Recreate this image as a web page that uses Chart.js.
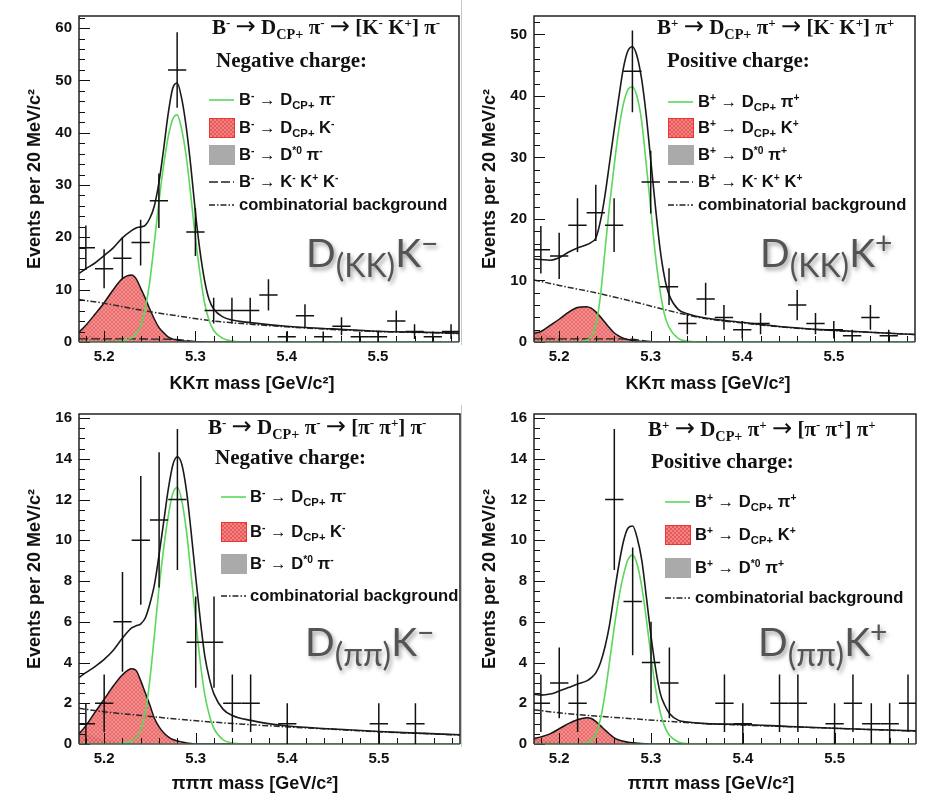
<!DOCTYPE html>
<html lang="en">
<head>
<meta charset="UTF-8">
<title>B &rarr; D(CP+) h mass fits</title>
<script src="https://cdn.jsdelivr.net/npm/chart.js"></script>
<style>
    body { margin: 0; background: #fff; }
    #wrap { position: relative; width: 928px; height: 797px; overflow: hidden; font-family: "Liberation Sans", Arial, sans-serif; color: #111; }
    #wrap canvas { position: absolute; }
    .sep { position: absolute; width: 1px; background: #c8c8c8; }
    .ttl { position: absolute; font-family: "Liberation Serif", "Times New Roman", serif; font-weight: bold; font-size: 21px; line-height: 21px; white-space: nowrap; }
    .ttl .ar { font-family: "DejaVu Sans", sans-serif; font-weight: normal; font-size: 1.15em; line-height: 0; }
    .leg { position: absolute; display: flex; align-items: center; height: 20px; font-weight: bold; font-size: 16.6px; white-space: nowrap; }
    .ttl sup, .leg sup { font-size: 0.62em; vertical-align: 0; position: relative; top: -0.55em; }
    .ttl sub, .leg sub { font-size: 0.68em; vertical-align: 0; position: relative; top: 0.38em; }
    .big { position: absolute; font-family: Lato, "Open Sans", sans-serif; font-size: 39px; line-height: 39px; color: #545454; white-space: nowrap; text-shadow: 2px 3px 4px rgba(0,0,0,0.38); }
    .big .bs { font-size: 32px; position: relative; top: 10px; }
    .big .bp { font-size: 30px; position: relative; top: -13px; }
    .xt { position: absolute; font-weight: bold; font-size: 18px; line-height: 18px; white-space: nowrap; transform: translateX(-50%); }
</style>
</head>
<body>
<div id="wrap"></div>

<script>
    const binCenters = [5.18, 5.20, 5.22, 5.24, 5.26, 5.28, 5.30, 5.32, 5.34, 5.36, 5.38,
                        5.40, 5.42, 5.44, 5.46, 5.48, 5.50, 5.52, 5.54, 5.56, 5.58];
    const kkMinusCounts = [18, 14, 16, 19, 27, 52, 21, 6, 6, 6, 9, 1, 5, 1, 3, 1, 1, 4, 2, 1, 2];
    const kkPlusCounts  = [15, 14, 19, 21, 19, 44, 26, 9, 3, 7, 4, 2, 3, 0, 6, 3, 2, 1, 4, 1, 0];
    const ppMinusCounts = [1, 2, 6, 10, 11, 12, 5, 5, 2, 2, 0, 1, 0, 0, 0, 0, 1, 0, 1, 0, 0];
    const ppPlusCounts  = [2, 3, 2, 0, 12, 7, 4, 3, 0, 0, 2, 1, 0, 2, 2, 0, 1, 2, 1, 1, 2];

    // fit curves, sampled where they were read
    const curveX = [5.1725, 5.18, 5.19, 5.20, 5.21, 5.22, 5.23, 5.235, 5.24, 5.245, 5.25, 5.255,
                    5.26, 5.265, 5.27, 5.275, 5.28, 5.285, 5.29, 5.295, 5.30, 5.305, 5.31, 5.315,
                    5.32, 5.33, 5.34, 5.36, 5.40, 5.45, 5.50, 5.55, 5.59];
    const bgX  = [5.1725, 5.20, 5.24, 5.28, 5.32, 5.36, 5.40, 5.45, 5.50, 5.55, 5.59];
    const kkkX = [5.1725, 5.22, 5.26, 5.28, 5.29, 5.30, 5.31];

    const kkMinusTotal  = [13.1, 14.0, 15.1, 16.5, 18.0, 19.9, 21.3, 21.8, 22.0, 22.3, 23.6, 26.0,
                           30.4, 36.6, 43.4, 48.4, 49.5, 46.5, 41.0, 33.5, 24.8, 17.4, 11.8, 8.1,
                           6.3, 4.8, 4.2, 3.7, 3.0, 2.5, 2.05, 1.85, 1.7];
    const kkMinusSignal = [0, 0, 0, 0, 0, 0.3, 0.8, 1.6, 2.9, 6.4, 11.5, 19.0,
                           26.7, 33.5, 39.0, 42.5, 43.4, 40.6, 35.4, 27.9, 19.9, 13.1, 7.5, 4.1,
                           2.2, 0.7, 0.2, 0, 0, 0, 0, 0, 0];
    const kkMinusDK     = [1.9, 3.2, 5.3, 7.5, 10.0, 12.1, 12.8, 12.1, 10.3, 8.4, 6.3, 4.4,
                           2.8, 1.8, 1.0, 0.6, 0.4, 0.25, 0.15, 0.1, 0.05, 0, 0, 0,
                           0, 0, 0, 0, 0, 0, 0, 0, 0];
    const kkMinusDstar  = [1.6, 1.3, 1.0, 0.7, 0.45, 0.25, 0.12, 0.05, 0, 0, 0, 0,
                           0, 0, 0, 0, 0, 0, 0, 0, 0, 0, 0, 0, 0, 0, 0, 0, 0, 0, 0, 0, 0];
    const kkMinusComb   = [8.1, 7.4, 6.1, 5.0, 4.0, 3.4, 2.9, 2.4, 2.0, 1.8, 1.6];
    const kkMinusKKK    = [0.6, 0.6, 0.55, 0.5, 0.3, 0.1, 0];

    const kkPlusTotal  = [13.5, 13.4, 13.3, 13.7, 14.6, 15.3, 15.8, 16.2, 16.9, 19.6, 23.8, 29.1,
                          34.4, 39.6, 44.4, 47.3, 48.0, 46.5, 42.8, 37.0, 29.6, 22.2, 15.4, 10.6,
                          7.7, 5.3, 4.6, 3.9, 3.2, 2.4, 1.9, 1.5, 1.2];
    const kkPlusSignal = [0, 0, 0, 0, 0, 0, 0.3, 0.8, 2.7, 7.4, 14.8, 22.2,
                          28.6, 34.4, 38.6, 41.0, 41.5, 39.9, 36.0, 29.1, 21.7, 14.3, 8.5, 4.5,
                          2.4, 0.6, 0.15, 0, 0, 0, 0, 0, 0];
    const kkPlusDK     = [1.4, 1.7, 2.7, 3.7, 4.8, 5.6, 5.75, 5.5, 4.9, 4.1, 3.2, 2.3,
                          1.5, 1.0, 0.6, 0.4, 0.25, 0.15, 0.1, 0.05, 0, 0, 0, 0,
                          0, 0, 0, 0, 0, 0, 0, 0, 0];
    const kkPlusDstar  = [2.0, 1.5, 1.0, 0.6, 0.35, 0.2, 0.1, 0.05, 0, 0, 0, 0,
                          0, 0, 0, 0, 0, 0, 0, 0, 0, 0, 0, 0, 0, 0, 0, 0, 0, 0, 0, 0, 0];
    const kkPlusComb   = [10.1, 9.2, 8.0, 6.6, 5.1, 3.8, 3.1, 2.35, 1.85, 1.5, 1.2];
    const kkPlusKKK    = [0.5, 0.5, 0.5, 0.45, 0.25, 0.08, 0];

    const ppMinusTotal  = [3.26, 3.5, 3.8, 4.15, 4.6, 5.2, 5.7, 5.8, 5.9, 6.2, 6.9, 7.85,
                           9.3, 10.9, 12.5, 13.7, 14.1, 13.7, 12.4, 10.4, 8.2, 6.1, 4.3, 3.2,
                           2.45, 1.7, 1.4, 1.16, 0.88, 0.74, 0.61, 0.52, 0.45];
    const ppMinusSignal = [0, 0, 0, 0, 0, 0.05, 0.15, 0.3, 0.7, 1.55, 3.2, 5.4,
                           7.7, 9.6, 11.2, 12.3, 12.6, 11.9, 10.4, 8.3, 6.1, 4.0, 2.4, 1.4,
                           0.75, 0.2, 0.05, 0, 0, 0, 0, 0, 0];
    const ppMinusDK     = [0.5, 0.9, 1.56, 2.2, 2.85, 3.4, 3.7, 3.6, 3.1, 2.5, 1.9, 1.25,
                           0.84, 0.55, 0.35, 0.22, 0.15, 0.1, 0.05, 0.02, 0, 0, 0, 0,
                           0, 0, 0, 0, 0, 0, 0, 0, 0];
    const ppMinusDstar  = [0.65, 0.5, 0.35, 0.22, 0.12, 0.06, 0.02, 0, 0, 0, 0, 0,
                           0, 0, 0, 0, 0, 0, 0, 0, 0, 0, 0, 0, 0, 0, 0, 0, 0, 0, 0, 0, 0];
    const ppMinusComb   = [1.75, 1.58, 1.4, 1.22, 1.07, 0.95, 0.84, 0.72, 0.6, 0.51, 0.44];

    const ppPlusTotal  = [2.45, 2.4, 2.45, 2.6, 2.77, 2.94, 3.1, 3.26, 3.5, 4.0, 4.8, 5.9,
                          7.4, 8.8, 9.95, 10.6, 10.7, 10.1, 9.0, 7.2, 5.3, 3.7, 2.5, 1.9,
                          1.5, 1.16, 1.08, 1.0, 0.96, 0.86, 0.77, 0.7, 0.64];
    const ppPlusSignal = [0, 0, 0, 0, 0, 0, 0.05, 0.2, 0.5, 1.25, 2.5, 4.1,
                          5.75, 7.2, 8.3, 9.06, 9.27, 8.8, 7.7, 6.1, 4.3, 2.7, 1.56, 0.84,
                          0.43, 0.1, 0.02, 0, 0, 0, 0, 0, 0];
    const ppPlusDK     = [0.27, 0.35, 0.5, 0.75, 1.0, 1.19, 1.29, 1.25, 1.1, 0.9, 0.68, 0.48,
                          0.3, 0.2, 0.14, 0.09, 0.06, 0.04, 0.02, 0.01, 0, 0, 0, 0,
                          0, 0, 0, 0, 0, 0, 0, 0, 0];
    const ppPlusDstar  = [0.3, 0.22, 0.13, 0.07, 0.03, 0, 0, 0, 0, 0, 0, 0,
                          0, 0, 0, 0, 0, 0, 0, 0, 0, 0, 0, 0, 0, 0, 0, 0, 0, 0, 0, 0, 0];
    const ppPlusComb   = [1.68, 1.53, 1.37, 1.24, 1.11, 1.0, 0.93, 0.85, 0.77, 0.69, 0.63];

    // axes
    const xMin = 5.1725, xMax = 5.5887;
    const xTicks = [5.2, 5.3, 5.4, 5.5];
    const yTicksKKMinus = [0, 10, 20, 30, 40, 50, 60];
    const yTicksKKPlus = [0, 10, 20, 30, 40, 50];
    const yTicksPiPi = [0, 2, 4, 6, 8, 10, 12, 14, 16];

    const FONT = "'Liberation Sans', Arial, sans-serif";
    const GREEN = '#5cd65c';
    const AR = '<span class="ar">→</span>';

    function pts(xs, ys) {
        return xs.map((x, i) => ({ x: x, y: ys[i] }));
    }

    // red cross-hatch like the ROOT fill style
    function hatchPattern() {
        const c = document.createElement('canvas');
        c.width = c.height = 4;
        const g = c.getContext('2d');
        g.fillStyle = 'rgba(232, 82, 82, 0.85)';
        g.fillRect(0, 0, 4, 4);
        g.strokeStyle = 'rgba(255, 190, 190, 0.6)';
        g.lineWidth = 0.7;
        g.beginPath();
        g.moveTo(0, 4); g.lineTo(4, 0);
        g.moveTo(0, 0); g.lineTo(4, 4);
        g.stroke();
        return g.createPattern(c, 'repeat');
    }

    // frame + inward ROOT-style tick marks
    const rootFrame = {
        id: 'rootFrame',
        afterDatasetsDraw(chart, args, opts) {
            const { ctx, chartArea: a, scales: { x, y } } = chart;
            ctx.save();
            ctx.strokeStyle = '#111';
            ctx.lineWidth = 1;
            const nMinor = Math.round(y.max / opts.yMinor);
            for (let i = 0; i <= nMinor; i++) {
                const v = i * opts.yMinor;
                if (v > y.max) break;
                const py = Math.round(y.getPixelForValue(v)) + 0.5;
                const major = Math.abs(v / opts.yMajor - Math.round(v / opts.yMajor)) < 1e-6;
                ctx.beginPath();
                ctx.moveTo(a.left, py);
                ctx.lineTo(a.left + (major ? 11 : 6), py);
                ctx.stroke();
            }
            for (let i = 259; i <= 279; i++) {
                const v = i * 0.02;
                if (v < x.min || v > x.max) continue;
                const px = Math.round(x.getPixelForValue(v)) + 0.5;
                const major = i % 5 === 0;
                ctx.beginPath();
                ctx.moveTo(px, a.bottom);
                ctx.lineTo(px, a.bottom - (major ? 11 : 6));
                ctx.stroke();
            }
            ctx.lineWidth = 1.5;
            ctx.strokeStyle = '#222';
            ctx.beginPath();
            ctx.moveTo(a.left, a.bottom);
            ctx.lineTo(a.left, a.top);
            ctx.lineTo(a.right, a.top);
            ctx.lineTo(a.right, a.bottom);
            ctx.stroke();
            ctx.strokeStyle = '#4b5e50';
            ctx.beginPath();
            ctx.moveTo(a.left, a.bottom);
            ctx.lineTo(a.right, a.bottom);
            ctx.stroke();
            ctx.restore();
        }
    };

    // data points: horizontal bar = bin width, vertical bar = sqrt(N)
    const errorBars = {
        id: 'errorBars',
        afterDatasetsDraw(chart) {
            const { ctx, chartArea: a, scales: { x, y } } = chart;
            ctx.save();
            ctx.beginPath();
            ctx.rect(a.left, a.top, a.right - a.left, a.bottom - a.top);
            ctx.clip();
            ctx.strokeStyle = '#111';
            ctx.lineWidth = 1.5;
            chart.data.datasets.forEach(ds => {
                if (!ds.errorBars) return;
                ds.data.forEach(p => {
                    if (p.y <= 0) return;
                    const e = Math.sqrt(p.y);
                    const px = x.getPixelForValue(p.x);
                    const py = y.getPixelForValue(p.y);
                    ctx.beginPath();
                    ctx.moveTo(x.getPixelForValue(p.x - 0.01), py);
                    ctx.lineTo(x.getPixelForValue(p.x + 0.01), py);
                    ctx.moveTo(px, y.getPixelForValue(p.y + e));
                    ctx.lineTo(px, y.getPixelForValue(Math.max(0, p.y - e)));
                    ctx.stroke();
                });
            });
            ctx.restore();
        }
    };

    function lineSet(label, data, color, width, dash) {
        return {
            label: label, data: data, showLine: true, fill: false,
            borderColor: color, borderWidth: width, borderDash: dash || [],
            pointRadius: 0, pointHoverRadius: 0, cubicInterpolationMode: 'monotone'
        };
    }

    const panels = [
        { ox: 0, oy: 0, w: 464, h: 398, left: 79, right: 459, top: 7, bottom: 342, titlePad: 24,
          yMax: 62.3, yTicks: yTicksKKMinus, yMajor: 10, yMinor: 2,
          counts: kkMinusCounts, total: kkMinusTotal, signal: kkMinusSignal, dk: kkMinusDK,
          dstar: kkMinusDstar, comb: kkMinusComb, kkk: kkMinusKKK,
          title: 'B<sup>-</sup> ' + AR + ' D<sub>CP+</sub> π<sup>-</sup> ' + AR + ' [K<sup>-</sup> K<sup>+</sup>] π<sup>-</sup>',
          charge: 'Negative charge:', tX: 212, tY: 17, cX: 216, cY: 50,
          legX: 209, legTextX: 239, rows: [100, 128, 155, 182, 205],
          legend: ['B<sup>-</sup> → D<sub>CP+</sub> π<sup>-</sup>', 'B<sup>-</sup> → D<sub>CP+</sub> K<sup>-</sup>',
                   'B<sup>-</sup> → D<sup>*0</sup> π<sup>-</sup>', 'B<sup>-</sup> → K<sup>-</sup> K<sup>+</sup> K<sup>-</sup>',
                   'combinatorial background'],
          big: 'D<span class="bs">(KK)</span>K<span class="bp">−</span>', bX: 306, bY: 233,
          xTitle: 'KKπ mass [GeV/c²]', xtX: 252, xtY: 374 },
        { ox: 464, oy: 0, w: 464, h: 398, left: 70, right: 451, top: 7, bottom: 342, titlePad: 15,
          yMax: 53, yTicks: yTicksKKPlus, yMajor: 10, yMinor: 2,
          counts: kkPlusCounts, total: kkPlusTotal, signal: kkPlusSignal, dk: kkPlusDK,
          dstar: kkPlusDstar, comb: kkPlusComb, kkk: kkPlusKKK,
          title: 'B<sup>+</sup> ' + AR + ' D<sub>CP+</sub> π<sup>+</sup> ' + AR + ' [K<sup>-</sup> K<sup>+</sup>] π<sup>+</sup>',
          charge: 'Positive charge:', tX: 193, tY: 17, cX: 203, cY: 50,
          legX: 204, legTextX: 234, rows: [102, 128, 155, 182, 205],
          legend: ['B<sup>+</sup> → D<sub>CP+</sub> π<sup>+</sup>', 'B<sup>+</sup> → D<sub>CP+</sub> K<sup>+</sup>',
                   'B<sup>+</sup> → D<sup>*0</sup> π<sup>+</sup>', 'B<sup>+</sup> → K<sup>-</sup> K<sup>+</sup> K<sup>+</sup>',
                   'combinatorial background'],
          big: 'D<span class="bs">(KK)</span>K<span class="bp">+</span>', bX: 296, bY: 233,
          xTitle: 'KKπ mass [GeV/c²]', xtX: 244, xtY: 374 },
        { ox: 0, oy: 398, w: 464, h: 399, left: 79, right: 460, top: 11, bottom: 346, titlePad: 24,
          yMax: 16.2, yTicks: yTicksPiPi, yMajor: 2, yMinor: 0.5,
          counts: ppMinusCounts, total: ppMinusTotal, signal: ppMinusSignal, dk: ppMinusDK,
          dstar: ppMinusDstar, comb: ppMinusComb, kkk: null,
          title: 'B<sup>-</sup> ' + AR + ' D<sub>CP+</sub> π<sup>-</sup> ' + AR + ' [π<sup>-</sup> π<sup>+</sup>] π<sup>-</sup>',
          charge: 'Negative charge:', tX: 208, tY: 19, cX: 215, cY: 49,
          legX: 221, legTextX: 250, rows: [99, 134, 166, 198],
          legend: ['B<sup>-</sup> → D<sub>CP+</sub> π<sup>-</sup>', 'B<sup>-</sup> → D<sub>CP+</sub> K<sup>-</sup>',
                   'B<sup>-</sup> → D<sup>*0</sup> π<sup>-</sup>', 'combinatorial background'],
          big: 'D<span class="bs">(ππ)</span>K<span class="bp">−</span>', bX: 305, bY: 224,
          xTitle: 'πππ mass [GeV/c²]', xtX: 255, xtY: 376 },
        { ox: 464, oy: 398, w: 464, h: 399, left: 70, right: 452, top: 11, bottom: 346, titlePad: 15,
          yMax: 16.2, yTicks: yTicksPiPi, yMajor: 2, yMinor: 0.5,
          counts: ppPlusCounts, total: ppPlusTotal, signal: ppPlusSignal, dk: ppPlusDK,
          dstar: ppPlusDstar, comb: ppPlusComb, kkk: null,
          title: 'B<sup>+</sup> ' + AR + ' D<sub>CP+</sub> π<sup>+</sup> ' + AR + ' [π<sup>-</sup> π<sup>+</sup>] π<sup>+</sup>',
          charge: 'Positive charge:', tX: 184, tY: 21, cX: 187, cY: 53,
          legX: 201, legTextX: 231, rows: [104, 137, 170, 200],
          legend: ['B<sup>+</sup> → D<sub>CP+</sub> π<sup>+</sup>', 'B<sup>+</sup> → D<sub>CP+</sub> K<sup>+</sup>',
                   'B<sup>+</sup> → D<sup>*0</sup> π<sup>+</sup>', 'combinatorial background'],
          big: 'D<span class="bs">(ππ)</span>K<span class="bp">+</span>', bX: 294, bY: 224,
          xTitle: 'πππ mass [GeV/c²]', xtX: 247, xtY: 376 }
    ];

    const wrap = document.getElementById('wrap');

    function addDiv(cls, x, y, html) {
        const d = document.createElement('div');
        d.className = cls;
        d.style.left = x + 'px';
        d.style.top = y + 'px';
        d.innerHTML = html;
        wrap.appendChild(d);
        return d;
    }

    // legend symbols, drawn as small SVGs
    function symbol(kind) {
        if (kind === 'signal') return '<svg width="25" height="20"><line x1="0" y1="10" x2="25" y2="10" stroke="' + GREEN + '" stroke-width="1.6"/></svg>';
        if (kind === 'dk') return '<svg width="26" height="20"><defs><pattern id="h" width="4" height="4" patternUnits="userSpaceOnUse"><rect width="4" height="4" fill="#e85a5a"/><path d="M0 4L4 0M0 0L4 4" stroke="#ffbcbc" stroke-opacity="0.6" stroke-width="0.7"/></pattern></defs><rect x="0.5" y="0.5" width="25" height="19" fill="url(#h)" stroke="#e33" stroke-width="1"/></svg>';
        if (kind === 'dstar') return '<svg width="26" height="20"><rect x="0" y="0" width="26" height="20" fill="#aaaaaa"/></svg>';
        if (kind === 'kkk') return '<svg width="25" height="20"><line x1="0" y1="10" x2="25" y2="10" stroke="#222" stroke-width="1.5" stroke-dasharray="9,3"/></svg>';
        return '<svg width="25" height="20"><line x1="0" y1="10" x2="25" y2="10" stroke="#222" stroke-width="1.5" stroke-dasharray="6,2,1.5,2"/></svg>';
    }

    panels.forEach(p => {
        const cv = document.createElement('canvas');
        cv.width = p.w;
        cv.height = p.h;
        cv.style.left = p.ox + 'px';
        cv.style.top = p.oy + 'px';
        wrap.appendChild(cv);

        const datasets = [
            lineSet('total fit', pts(curveX, p.total), '#1a1a1a', 1.6),
            lineSet('signal', pts(curveX, p.signal), GREEN, 1.6)
        ];
        if (p.kkk) datasets.push(lineSet('B → KKK', pts(kkkX, p.kkk), '#222', 1.3, [9, 3]));
        datasets.push(lineSet('combinatorial background', pts(bgX, p.comb), '#2a2a2a', 1.5, [6, 2, 1.5, 2]));
        datasets.push(Object.assign(lineSet('D K', pts(curveX, p.dk), '#151515', 1.5),
            { fill: 'origin', backgroundColor: hatchPattern() }));
        datasets.push(Object.assign(lineSet('D* pi', pts(curveX, p.dstar), 'rgba(0,0,0,0)', 0),
            { fill: 'origin', backgroundColor: '#aaaaaa' }));
        datasets.push({
            label: 'data', errorBars: true, showLine: false, pointRadius: 0, pointHoverRadius: 0,
            data: pts(binCenters, p.counts)
        });

        new Chart(cv, {
            type: 'scatter',
            data: { datasets: datasets },
            options: {
                responsive: false,
                animation: false,
                events: [],
                layout: { padding: { left: 0, top: p.top, right: p.w - p.right, bottom: 0 } },
                plugins: {
                    legend: { display: false },
                    tooltip: { enabled: false },
                    rootFrame: { yMajor: p.yMajor, yMinor: p.yMinor }
                },
                scales: {
                    x: {
                        type: 'linear', min: xMin, max: xMax,
                        grid: { display: false, drawTicks: false },
                        border: { display: false },
                        afterBuildTicks: s => { s.ticks = xTicks.map(v => ({ value: v })); },
                        afterFit: s => { s.height = p.h - p.bottom; },
                        ticks: {
                            callback: v => Number(v).toFixed(1),
                            font: { family: FONT, size: 15, weight: 'bold' },
                            color: '#111', padding: 6, maxRotation: 0, autoSkip: false
                        }
                    },
                    y: {
                        min: 0, max: p.yMax,
                        grid: { display: false, drawTicks: false },
                        border: { display: false },
                        afterBuildTicks: s => { s.ticks = p.yTicks.map(v => ({ value: v })); },
                        afterFit: s => { s.width = p.left; },
                        ticks: {
                            font: { family: FONT, size: 15, weight: 'bold' },
                            color: '#111', padding: 7, autoSkip: false
                        },
                        title: {
                            display: true, text: 'Events per 20 MeV/c²', color: '#111',
                            font: { family: FONT, size: 18, weight: 'bold' },
                            padding: { top: p.titlePad, bottom: 0 }
                        }
                    }
                }
            },
            plugins: [rootFrame, errorBars]
        });

        // in-frame annotations
        addDiv('ttl', p.ox + p.tX, p.oy + p.tY, p.title);
        addDiv('ttl', p.ox + p.cX, p.oy + p.cY, p.charge);
        const kinds = p.kkk ? ['signal', 'dk', 'dstar', 'kkk', 'comb'] : ['signal', 'dk', 'dstar', 'comb'];
        kinds.forEach((k, i) => {
            addDiv('leg', p.ox + p.legX, p.oy + p.rows[i] - 10,
                '<span style="display:inline-block;width:' + (p.legTextX - p.legX) + 'px;height:20px">' + symbol(k) + '</span><span>' + p.legend[i] + '</span>');
        });
        addDiv('big', p.ox + p.bX, p.oy + p.bY, p.big);
        addDiv('xt', p.ox + p.xtX, p.oy + p.xtY, p.xTitle);
    });

    // thin grey edges between the two columns
    const s1 = addDiv('sep', 461, 0, '');
    s1.style.height = '345px';
    const s2 = addDiv('sep', 461, 405, '');
    s2.style.height = '342px';
</script>
</body>
</html>
